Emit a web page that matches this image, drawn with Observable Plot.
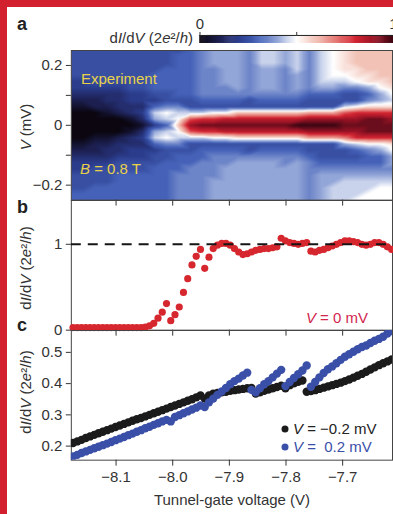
<!DOCTYPE html>
<html><head><meta charset="utf-8">
<script src="https://cdn.jsdelivr.net/npm/d3@7"></script>
<script src="https://cdn.jsdelivr.net/npm/@observablehq/plot@0.6"></script>
<style>
html,body{margin:0;padding:0;background:#fff;}
#fig{position:relative;width:393px;height:514px;overflow:hidden;background:#fff;}
#fig > *{position:absolute;left:0;}
</style></head><body><div id="fig"></div>
<script>
// ---------- data ----------
const xDomain = [-8.179, -7.612];
const xTicks = [-8.1, -8.0, -7.9, -7.8, -7.7];
const xTickLabels = ["−8.1", "−8.0", "−7.9", "−7.8", "−7.7"];

// panel a: heatmap columns (left→right), each string top (V=+0.25) → bottom (V=−0.25)
// code letters a..u = 0, 0.05, ..., 1.0  (dI/dV in 2e²/h)
const heatCols = [
  "fffffeedcbaaaaabcdeefffgg",
  "fffffeedcbaaaaabcdeefffgg",
  "ffffffedccaaaabccdefffggg",
  "ffffffeddcbaaabcddefffggg",
  "ffffffedddcaaacddeffggggg",
  "fffffffeeddbabddeeffggggg",
  "fffffffeededbdedeeffggggg",
  "ffffgggfegjieijgeffgggggg",
  "fffggggffhkjgjkhffggggggg",
  "fgggggggfhjkmkjhfggghhhhh",
  "ggggggggffjpspjffgghhhhhh",
  "hhhhhhhhgfjqtqjfgghhhhhhh",
  "iiihhhhhgfkqtqkfghhhhiiii",
  "iiiiiihhgfkrtrkfghhiiiiii",
  "iiiiiiihgfmrtrlfghiiiiiii",
  "hhhhhhhhffmrtrlffhiiiiiii",
  "jjjiiiihgfmrtrlfghiiiiiii",
  "jjjiiiihgfmrtrlfghiiiiiii",
  "iiihhhhhgfmrtrlfghhiiiiii",
  "jjjjiiihgfmrurlfghiiiiiii",
  "hhhhhhhgffnsusnffghhhhhhh",
  "jjjjjjigffnsusnfffghiiiii",
  "kkkkkjigffnsusnfffghiijjj",
  "llllkjhffjpstsoiffghijjjj",
  "mmmllkhffkqstsqjgfghijjjk",
  "mmmmllighlqtttqkhgghijjkk",
  "mmmmmlkiilqtttqkigghijkkk",
  "mmmmmmlkjlqsttqlkiihijkkk"
];
const heatVExtent = [0.25, -0.25];
const aYTicks = [-0.2, -0.1, 0, 0.1, 0.2];
const aYTickLabels = ["−0.2", "", "0", "", "0.2"];

// colour map stops
const cmapStops = [0, 0.1, 0.2, 0.3, 0.4, 0.5, 0.6, 0.7, 0.8, 0.9, 1];
const cmapColors = ["#0b0610", "#1c1f4f", "#2b3c8c", "#4562b8", "#93a6d8", "#ffffff",
                    "#f2c2b6", "#e57c78", "#d32532", "#9a1426", "#3a0612"];

// gate voltage sweep (V)
const gate = [
  -8.176, -8.1685, -8.161, -8.1535, -8.146, -8.1385, -8.131, -8.1235, -8.116, -8.1085,
  -8.101, -8.0935, -8.086, -8.0785, -8.071, -8.0635, -8.056, -8.0485, -8.041, -8.0335,
  -8.026, -8.0185, -8.011, -8.0035, -7.996, -7.9885, -7.981, -7.9735, -7.966, -7.9585,
  -7.951, -7.9435, -7.936, -7.9285, -7.921, -7.9135, -7.906, -7.8985, -7.891, -7.8835,
  -7.876, -7.8685, -7.861, -7.8535, -7.846, -7.8385, -7.831, -7.8235, -7.816, -7.8085,
  -7.801, -7.7935, -7.786, -7.7785, -7.771, -7.7635, -7.756, -7.7485, -7.741, -7.7335,
  -7.726, -7.7185, -7.711, -7.7035, -7.696, -7.6885, -7.681, -7.6735, -7.666, -7.6585,
  -7.651, -7.6435, -7.636, -7.6285, -7.621, -7.6135
];
// panel b: dI/dV at V = 0 mV
const zeroBias = [
  0.03, 0.03, 0.03, 0.03, 0.03, 0.03, 0.03, 0.03, 0.03, 0.03,
  0.03, 0.03, 0.03, 0.03, 0.03, 0.03, 0.03, 0.035, 0.05, 0.08,
  0.14, 0.21, 0.31, 0.11, 0.18, 0.27, 0.44, 0.60, 0.76, 0.86,
  0.94, 0.72, 0.85, 0.95, 0.99, 1.01, 1.01, 0.99, 0.95, 0.91,
  0.88, 0.89, 0.91, 0.93, 0.94, 0.95, 0.95, 0.96, 0.97, 1.07,
  1.04, 1.02, 1.01, 1.00, 1.01, 1.02, 0.92, 0.91, 0.93, 0.94,
  0.96, 0.98, 1.00, 1.02, 1.04, 1.04, 1.03, 1.02, 1.00, 0.99,
  1.00, 1.02, 1.02, 1.00, 0.97, 0.94
];
const bYTicks = [0, 1];
// panel c: dI/dV at V = −0.2 mV and V = +0.2 mV
const negBias = [
  0.210, 0.215, 0.220, 0.226, 0.231, 0.236, 0.241, 0.246, 0.251, 0.256,
  0.261, 0.266, 0.271, 0.276, 0.281, 0.286, 0.290, 0.295, 0.300, 0.305,
  0.310, 0.315, 0.320, 0.325, 0.330, 0.335, 0.340, 0.345, 0.350, 0.356,
  0.362, 0.352, 0.362, 0.368, 0.370, 0.372, 0.374, 0.377, 0.379, 0.381,
  0.383, 0.385, 0.386, 0.368, 0.372, 0.377, 0.381, 0.385, 0.389, 0.393,
  0.385, 0.395, 0.401, 0.406, 0.410, 0.374, 0.376, 0.379, 0.383, 0.387,
  0.391, 0.395, 0.399, 0.403, 0.408, 0.413, 0.419, 0.425, 0.431, 0.438,
  0.445, 0.452, 0.459, 0.465, 0.471, 0.477
];
const posBias = [
  0.167, 0.172, 0.178, 0.183, 0.188, 0.193, 0.198, 0.203, 0.208, 0.213,
  0.219, 0.224, 0.229, 0.235, 0.240, 0.246, 0.251, 0.257, 0.262, 0.268,
  0.273, 0.279, 0.284, 0.279, 0.293, 0.299, 0.305, 0.311, 0.317, 0.323,
  0.330, 0.325, 0.340, 0.352, 0.364, 0.375, 0.386, 0.398, 0.408, 0.416,
  0.426, 0.435, 0.380, 0.372, 0.385, 0.398, 0.408, 0.420, 0.432, 0.444,
  0.392, 0.405, 0.418, 0.430, 0.442, 0.458, 0.390, 0.405, 0.420, 0.434,
  0.446, 0.455, 0.465, 0.476, 0.486, 0.494, 0.502, 0.510, 0.517, 0.522,
  0.530, 0.537, 0.543, 0.550, 0.560, 0.568
];
const cYTicks = [0.2, 0.3, 0.4, 0.5];
const seriesNames = ["−0.2 mV", " 0.2 mV"];

// ---------- styling ----------
const FONT = '"Liberation Sans", Arial, Helvetica, sans-serif';
const RED = "#d6262e", BLUE = "#3a4fa8", BLACK = "#1b1b1b";
const baseStyle = {fontFamily: FONT, fontSize: "15px", color: "#333", background: "transparent", overflow: "visible"};
const colorOpts = {type: "linear", domain: cmapStops, range: cmapColors, interpolate: "rgb", clamp: true};
const W = 394, ML = 71, MR = 1;
const fig = document.getElementById("fig");

// heat samples on a grid spanning the panel
const nCols = heatCols.length, nRows = heatCols[0].length;
const heatPts = [];
for (let c = 0; c < nCols; c++)
  for (let r = 0; r < nRows; r++)
    heatPts.push({
      g: xDomain[0] + (xDomain[1] - xDomain[0]) * c / (nCols - 1),
      V: heatVExtent[0] + (heatVExtent[1] - heatVExtent[0]) * r / (nRows - 1),
      v: (heatCols[c].charCodeAt(r) - 97) * 0.05
    });

const xFmt = d => xTickLabels[xTicks.indexOf(d)];

// ---------- panel a ----------
const plotA = Plot.plot({
  width: W, height: 158, marginLeft: ML, marginRight: MR, marginTop: 0, marginBottom: 8,
  style: baseStyle,
  x: {domain: xDomain},
  y: {domain: [-0.25, 0.25]},
  color: colorOpts,
  marks: [
    Plot.raster(heatPts, {x: "g", y: "V", fill: "v", interpolate: "barycentric",
      x1: xDomain[0], x2: xDomain[1], y1: heatVExtent[0], y2: heatVExtent[1]}),
    Plot.frame({stroke: "#444"}),
    Plot.axisX({ticks: xTicks, tickSize: 6, tickFormat: () => "", label: null}),
    Plot.axisY({ticks: aYTicks, tickSize: 5, tickPadding: 4, label: null,
      tickFormat: d => aYTickLabels[aYTicks.indexOf(d)]})
  ]
});
plotA.style.top = "50px"; fig.appendChild(plotA);

// ---------- panel b ----------
const bData = gate.map((g, i) => ({g, v: zeroBias[i]}));
const plotB = Plot.plot({
  width: W, height: 138, marginLeft: ML, marginRight: MR, marginTop: 0, marginBottom: 8,
  style: baseStyle,
  x: {domain: xDomain},
  y: {domain: [0, 1.51]},
  marks: [
    Plot.frame({stroke: "#444"}),
    Plot.dot(bData, {x: "g", y: "v", r: 3.6, fill: RED}),
    Plot.ruleY([1], {stroke: "#151515", strokeWidth: 2, strokeDasharray: "10,7"}),
    Plot.axisX({ticks: xTicks, tickSize: 6, tickFormat: () => "", label: null}),
    Plot.axisY({ticks: bYTicks, tickSize: 5, tickPadding: 4, label: null, tickFormat: d => String(d)})
  ]
});
plotB.style.top = "200px"; fig.appendChild(plotB);

// ---------- panel c ----------
const cData = [];
gate.forEach((g, i) => cData.push({g, v: negBias[i], s: seriesNames[0]}));
gate.forEach((g, i) => cData.push({g, v: posBias[i], s: seriesNames[1]}));
const plotC = Plot.plot({
  width: W, height: 184, marginLeft: ML, marginRight: MR, marginTop: 0, marginBottom: 54,
  style: baseStyle,
  x: {domain: xDomain},
  y: {domain: [0.155, 0.570]},
  marks: [
    Plot.frame({stroke: "#444"}),
    Plot.dot(cData, {x: "g", y: "v", r: 4.2, fill: d => d.s === seriesNames[0] ? BLACK : BLUE, clip: true}),
    Plot.axisX({ticks: xTicks, tickSize: 6, tickPadding: 5, label: null, tickFormat: xFmt}),
    Plot.axisY({ticks: cYTicks, tickSize: 5, tickPadding: 4, label: null, tickFormat: d3.format(".1f")})
  ]
});
plotC.style.top = "330px"; fig.appendChild(plotC);

// ---------- colour bar ----------
const ramp = d3.range(0, 201).map(i => i / 200);
const plotBar = Plot.plot({
  width: W, height: 24, marginLeft: 200, marginRight: 0, marginTop: 16, marginBottom: 0,
  style: baseStyle,
  x: {domain: [0, 1]},
  y: {domain: [0, 1], axis: null},
  color: colorOpts,
  marks: [
    Plot.ruleX(ramp, {x: d => d, y1: 0, y2: 1, stroke: d => d, strokeWidth: 1.5}),
    Plot.ruleY([1], {stroke: "#222", strokeWidth: 1}),
    Plot.axisX({anchor: "top", ticks: [0, 0.5, 1], tickSize: 4, tickPadding: 2, label: null,
      tickFormat: d => d === 0 ? "0" : d === 1 ? "1" : ""})
  ]
});
plotBar.style.top = "19px"; fig.appendChild(plotBar);

// ---------- red border ----------
const topBar = document.createElement("div");
topBar.style.cssText = "top:0;width:393px;height:7px;background:#d2202f;";
fig.appendChild(topBar);
const leftBar = document.createElement("div");
leftBar.style.cssText = "top:0;width:7px;height:514px;background:#d2202f;";
fig.appendChild(leftBar);

// ---------- overlay text ----------
const ov = d3.select(fig).append("svg").attr("width", 393).attr("height", 514)
  .style("top", "0px").style("font-family", FONT);
function txt(x, y, parts, o = {}) {
  const t = ov.append("text").attr("x", x).attr("y", y)
    .attr("font-size", o.size || 15).attr("fill", o.fill || "#333")
    .attr("text-anchor", o.anchor || "start").style("white-space", "pre");
  if (o.bold) t.attr("font-weight", "bold");
  if (o.rotate) t.attr("transform", `rotate(-90 ${x} ${y})`);
  for (const p of parts) {
    const s = typeof p === "string" ? p : p[0];
    const ts = t.append("tspan").text(s);
    if (typeof p !== "string") ts.attr("font-style", "italic");
  }
  return t;
}
const dIdV = ["d", ["I"], "/d", ["V"], " (2", ["e"], "²/", ["h"], ")"];
txt(17, 30, ["a"], {bold: true, size: 18, fill: "#222"});
txt(17, 213, ["b"], {bold: true, size: 18, fill: "#222"});
txt(17, 331, ["c"], {bold: true, size: 18, fill: "#222"});
txt(193, 43, dIdV, {anchor: "end"});
txt(31, 127, [["V"], " (mV)"], {anchor: "middle", rotate: true});
txt(31, 268, dIdV, {anchor: "middle", rotate: true});
txt(31, 392, dIdV, {anchor: "middle", rotate: true});
txt(81, 84, ["Experiment"], {fill: "#e8d24a"});
txt(80, 174, [["B"], " = 0.8 T"], {fill: "#e8d24a"});
txt(368, 323, [["V"], " = 0 mV"], {anchor: "end", fill: "#d2264f"});
txt(232, 505, ["Tunnel-gate voltage (V)"], {anchor: "middle"});
// legend for panel c
ov.append("circle").attr("cx", 285).attr("cy", 429).attr("r", 3.5).attr("fill", BLACK);
txt(293, 434, [["V"], " = " + seriesNames[0]], {fill: "#222"});
ov.append("circle").attr("cx", 285).attr("cy", 447).attr("r", 3.5).attr("fill", BLUE);
txt(293, 452, [["V"], " = " + seriesNames[1]], {fill: BLUE});
</script></body></html>
